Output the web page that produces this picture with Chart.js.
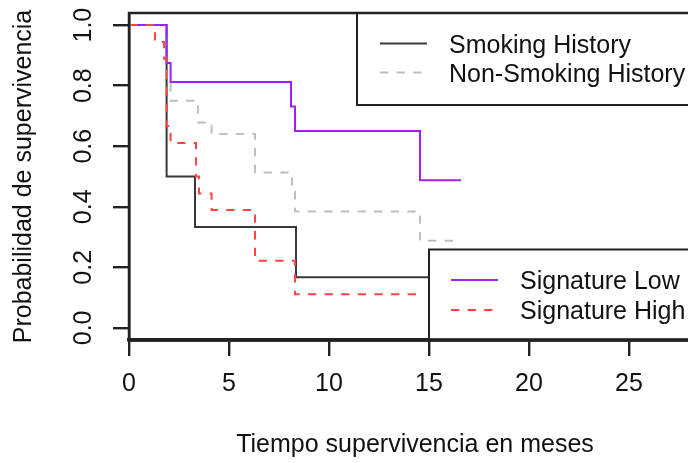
<!DOCTYPE html>
<html>
<head>
<meta charset="utf-8">
<script src="https://cdn.jsdelivr.net/npm/chart.js@4.4.1/dist/chart.umd.min.js"></script>
<style>
  html, body { margin: 0; padding: 0; background: #fff; overflow: hidden; }
  canvas { display: block; }
</style>
</head>
<body>
<canvas id="km" width="720" height="463"></canvas>
<script>
// Kaplan-Meier curves: event time (months) and survival right after it
const smokingTimes = [0, 1.88, 3.3, 8.35, 16.0];
const smokingSurv  = [1, 0.5, 0.333, 0.167, 0.167];

const nonSmokingTimes = [0, 1.88, 2.08, 3.45, 4.13, 6.3, 8.15, 8.3, 14.55, 16.55];
const nonSmokingSurv  = [1, 0.8125, 0.75, 0.678, 0.64, 0.513, 0.466, 0.384, 0.288, 0.288];

const sigLowTimes = [0, 1.88, 2.08, 8.1, 8.3, 14.55, 16.6];
const sigLowSurv  = [1, 0.875, 0.8125, 0.731, 0.65, 0.4875, 0.4875];

const sigHighTimes = [0, 1.3, 1.75, 1.88, 2.08, 3.35, 3.5, 4.13, 6.3, 8.3, 14.7];
const sigHighSurv  = [1, 0.944, 0.889, 0.667, 0.611, 0.5, 0.444, 0.389, 0.222, 0.111, 0.111];

const seriesLabels = ['Smoking History', 'Non-Smoking History', 'Signature Low', 'Signature High'];

const xTickValues = [0, 5, 10, 15, 20, 25];
const yTickValues = [0, 0.2, 0.4, 0.6, 0.8, 1.0];

const toPoints = (times, surv) => times.map((t, i) => ({ x: t, y: surv[i] }));

Chart.defaults.font.family = "'Liberation Sans', Arial, Helvetica, sans-serif";
Chart.defaults.font.size = 25;
Chart.defaults.color = '#111';

const INK = '#222';

// legends and the plot box are drawn by hand, R style
const frameAndLegends = {
  id: 'frameAndLegends',
  afterDatasetsDraw(chart) {
    const ctx = chart.ctx;
    const ds = chart.data.datasets;
    const boxes = [
      { left: 357, top: 13, bottom: 105, rows: [43.5, 72.5], sample: [380, 427], text: 449, items: [0, 1] },
      { left: 429, top: 249.5, bottom: 340, rows: [280, 310], sample: [451, 498], text: 520, items: [2, 3] }
    ];
    ctx.save();
    boxes.forEach(b => {
      ctx.fillStyle = '#fff';
      ctx.fillRect(b.left, b.top, chart.width - b.left + 40, b.bottom - b.top);
      ctx.strokeStyle = INK;
      ctx.lineWidth = 2;
      ctx.setLineDash([]);
      ctx.strokeRect(b.left, b.top, chart.width - b.left + 40, b.bottom - b.top);
      b.items.forEach((idx, r) => {
        const d = ds[idx];
        const y = b.rows[r];
        ctx.strokeStyle = d.borderColor;
        ctx.lineWidth = d.borderWidth;
        ctx.setLineDash(d.borderDash || []);
        ctx.beginPath();
        ctx.moveTo(b.sample[0], y);
        ctx.lineTo(b.sample[1], y);
        ctx.stroke();
        ctx.setLineDash([]);
        ctx.fillStyle = '#111';
        ctx.font = "25px 'Liberation Sans', Arial, sans-serif";
        ctx.textBaseline = 'alphabetic';
        ctx.textAlign = 'left';
        ctx.fillText(d.label, b.text, y + 9);
      });
    });
    ctx.restore();
  },
  afterDraw(chart) {
    const { ctx, chartArea: a } = chart;
    ctx.save();
    ctx.strokeStyle = INK;
    ctx.setLineDash([]);
    ctx.lineWidth = 2.5;
    ctx.strokeRect(a.left, a.top, a.right - a.left, a.bottom - a.top);
    ctx.lineWidth = 3.5;
    ctx.beginPath();
    ctx.moveTo(a.left - 1, a.bottom);
    ctx.lineTo(a.right, a.bottom);
    ctx.stroke();
    ctx.restore();
  }
};

const curve = (label, times, surv, color, dash, order) => ({
  label,
  data: toPoints(times, surv),
  borderColor: color,
  borderWidth: 2,
  borderDash: dash,
  stepped: 'before',
  pointRadius: 0,
  fill: false,
  order
});

new Chart(document.getElementById('km'), {
  type: 'line',
  data: {
    datasets: [
      curve(seriesLabels[0], smokingTimes, smokingSurv, '#383838', [], 3),
      curve(seriesLabels[1], nonSmokingTimes, nonSmokingSurv, '#bebebe', [8.3, 8.3], 2),
      curve(seriesLabels[2], sigLowTimes, sigLowSurv, '#a020f0', [], 1),
      curve(seriesLabels[3], sigHighTimes, sigHighSurv, '#ff4444', [8.3, 8.3], 0)
    ]
  },
  options: {
    responsive: false,
    animation: false,
    events: [],
    layout: { padding: { top: 13, right: 19, left: 0, bottom: 0 } },
    plugins: { legend: { display: false }, tooltip: { enabled: false } },
    scales: {
      x: {
        type: 'linear',
        min: 0,
        max: 28.6,
        afterBuildTicks: s => { s.ticks = xTickValues.map(v => ({ value: v })); },
        afterFit: s => { s.height = 123; s.paddingLeft = 0; s.paddingRight = 0; },
        ticks: { padding: 13, maxRotation: 0, callback: v => String(v) },
        grid: { drawOnChartArea: false, drawTicks: true, tickLength: 16, color: INK, lineWidth: 2.4 },
        border: { display: true, color: INK, width: 3.5 },
        title: { display: true, text: 'Tiempo supervivencia en meses', padding: { top: 0, bottom: 3 } }
      },
      y: {
        type: 'linear',
        min: -0.04,
        max: 1.04,
        afterBuildTicks: s => { s.ticks = yTickValues.map(v => ({ value: v })); },
        afterFit: s => { s.width = 129; s.paddingTop = 0; s.paddingBottom = 0; },
        ticks: { padding: 12, minRotation: 90, maxRotation: 90, crossAlign: 'center', callback: v => v.toFixed(1) },
        grid: { drawOnChartArea: false, drawTicks: true, tickLength: 16, color: INK, lineWidth: 2.4 },
        border: { display: true, color: INK, width: 2.5 },
        title: { display: true, text: 'Probabilidad de supervivencia', padding: { top: 9, bottom: 0 } }
      }
    }
  },
  plugins: [frameAndLegends]
});
</script>
</body>
</html>
